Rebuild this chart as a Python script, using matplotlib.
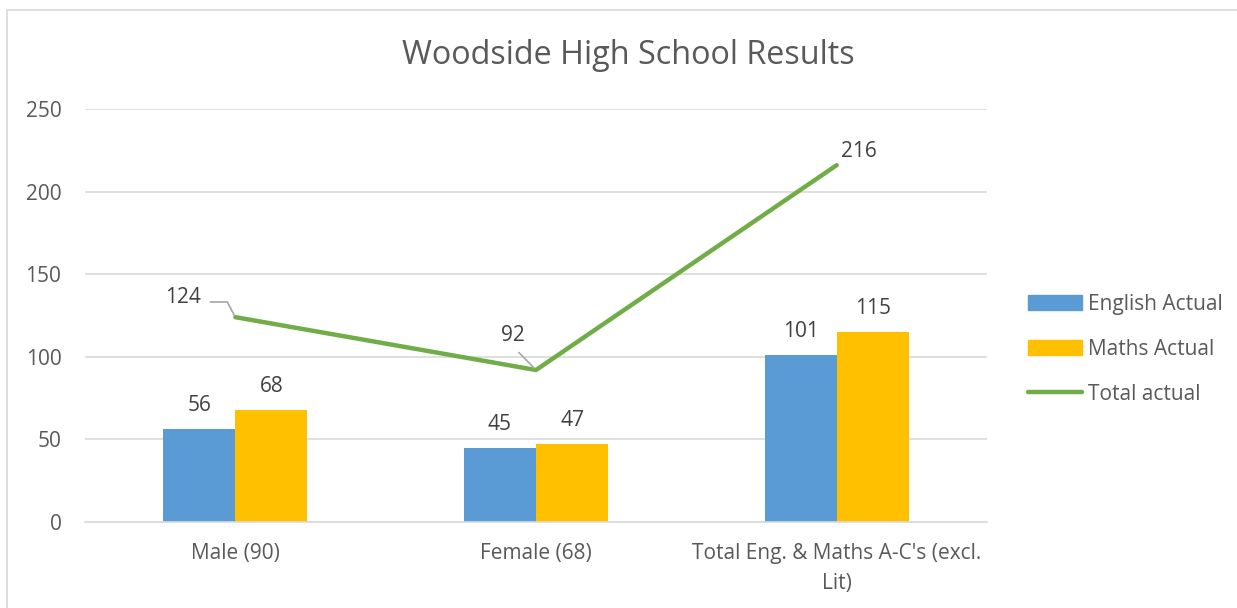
import matplotlib
matplotlib.use("Agg")
import matplotlib.pyplot as plt
from matplotlib.patches import Rectangle
from matplotlib.lines import Line2D

categories = ["Male (90)", "Female (68)", "Total Eng. & Maths A-C's (excl.\nLit)"]
english = [56, 45, 101]
maths = [68, 47, 115]
total = [124, 92, 216]
yticks = [0, 50, 100, 150, 200, 250]

W, H = 1237, 608
plt.rcParams['font.family'] = ['Open Sans', 'DejaVu Sans']
fig = plt.figure(figsize=(W/100, H/100), dpi=100)

# outer border (only top and left visible inside the image)
fig.patches.append(Rectangle((7/W, -0.2), 1.2, 1.2 - 10/H, transform=fig.transFigure,
                             fill=False, edgecolor='#d9d9d9', linewidth=1.2))

ax = fig.add_axes([85/W, 1 - 522/H, (987-85)/W, (522-109)/H])
x = list(range(len(categories)))
bw = 0.24
blue = '#5B9BD5'
gold = '#FFC000'
green = '#70AD47'
txt = '#404040'
tick = '#595959'
fs = 15

ax.bar([i - bw/2 for i in x], english, bw, color=blue, zorder=2)
ax.bar([i + bw/2 for i in x], maths, bw, color=gold, zorder=2)
ax.plot(x, total, color=green, linewidth=3.2, zorder=3, solid_capstyle='round')

for i in x:
    ax.annotate(str(english[i]), (i - bw/2, english[i]), xytext=(0, 13), textcoords='offset points',
                ha='center', va='baseline', fontsize=fs, color=txt)
    ax.annotate(str(maths[i]), (i + bw/2, maths[i]), xytext=(0, 13), textcoords='offset points',
                ha='center', va='baseline', fontsize=fs, color=txt)

# line labels with leader lines
ax.annotate(str(total[0]), (x[0], total[0]), xytext=(-25, 10), textcoords='offset points',
            ha='right', va='baseline', fontsize=fs, color=txt,
            arrowprops=dict(arrowstyle='-', color='#a6a6a6', lw=1.2,
                            connectionstyle='angle,angleA=0,angleB=118,rad=0',
                            shrinkA=5, shrinkB=2, relpos=(1, 0.3)))
ax.annotate(str(total[1]), (x[1], total[1]), xytext=(-17, 21), textcoords='offset points',
            ha='center', va='baseline', fontsize=fs, color=txt,
            arrowprops=dict(arrowstyle='-', color='#a6a6a6', lw=1.2, shrinkA=4, shrinkB=2,
                            relpos=(0.5, 0)))
ax.annotate(str(total[2]), (x[2], total[2]), xytext=(16, 6), textcoords='offset points',
            ha='center', va='baseline', fontsize=fs, color=txt)

ax.set_xlim(-0.5, 2.5)
ax.set_ylim(0, 250)
ax.set_yticks(yticks)
ax.set_yticklabels([str(v) for v in yticks])
ax.set_xticks(x)
ax.set_xticklabels(categories, fontsize=fs, color=tick, linespacing=1.6)
ax.tick_params(axis='y', labelsize=fs, colors=tick, length=0, pad=17)
ax.tick_params(axis='x', length=0, pad=15)
ax.grid(axis='y', color='#d9d9d9', linewidth=1.2, zorder=0)
ax.set_axisbelow(True)
for s in ['top', 'right', 'left']:
    ax.spines[s].set_visible(False)
ax.spines['bottom'].set_color('#d9d9d9')
ax.spines['bottom'].set_linewidth(1.2)

fig.text(628/W, 1 - 55/H, "Woodside High School Results", ha='center', va='center',
         fontsize=23.3, color='#595959')

handles = [Rectangle((0, 0), 1, 1, color=blue), Rectangle((0, 0), 1, 1, color=gold),
           Line2D([0], [0], color=green, linewidth=3.2, solid_capstyle='round')]
fig.legend(handles, ["English Actual", "Maths Actual", "Total actual"],
           loc='upper left', bbox_to_anchor=(1009/W, 1 - 275/H), frameon=False,
           fontsize=fs, labelcolor=tick, handlelength=2.6, handleheight=0.7,
           handletextpad=0.3, labelspacing=1.15)

fig.savefig("out.png", dpi=100)
